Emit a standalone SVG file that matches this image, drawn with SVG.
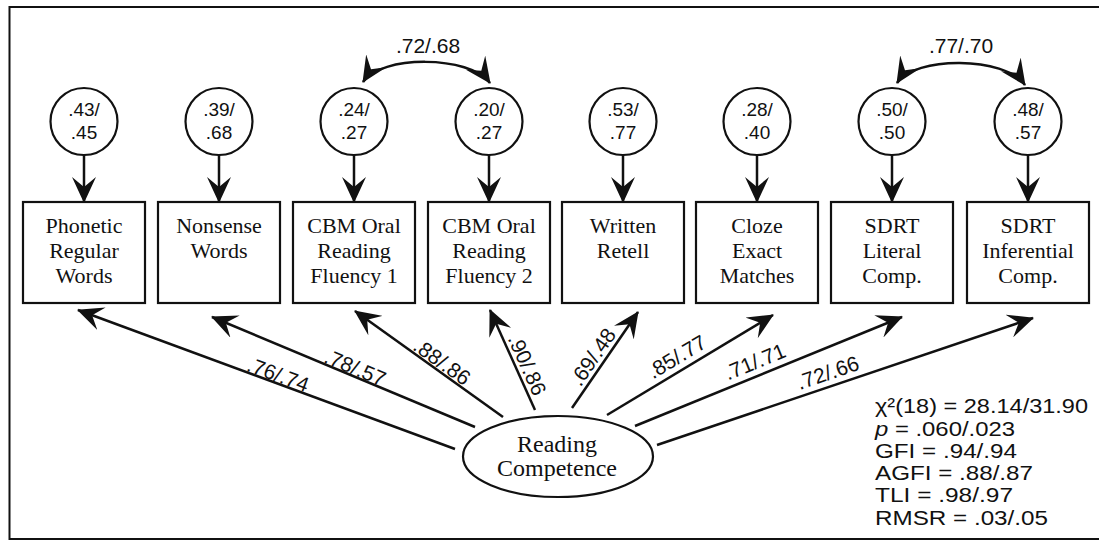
<svg xmlns="http://www.w3.org/2000/svg" width="1099" height="544" viewBox="0 0 1099 544">
<style>
.ln{fill:none;stroke:#111;stroke-width:2.5}
.bx{fill:#fff;stroke:#111;stroke-width:2.2}
.ci{fill:#fff;stroke:#111;stroke-width:2.2}
.st{font-family:"Liberation Serif","Times New Roman",serif;font-size:22px;fill:#111;text-anchor:middle}
.nm{font-family:"Liberation Sans",Arial,sans-serif;font-size:21px;fill:#111;text-anchor:middle}
.cn{font-family:"Liberation Sans",Arial,sans-serif;font-size:19px;fill:#111;text-anchor:middle}
.fit{font-family:"Liberation Sans",Arial,sans-serif;font-size:20px;fill:#111}
</style>
<defs>
<marker id="ah" viewBox="0 0 26 24" refX="25" refY="12" markerWidth="26" markerHeight="24" markerUnits="userSpaceOnUse" orient="auto-start-reverse">
<path d="M0,0 L26,12 L0,24 L10,12 Z" fill="#111"/>
</marker>
</defs>
<rect x="0" y="0" width="1099" height="544" fill="#fff"/>
<rect id="frame" x="9.5" y="7" width="1110" height="532" fill="none" stroke="#111" stroke-width="2"/>

<g id="connectors">
<g id="error-arrows">
<line class="ln" x1="84" y1="155" x2="84" y2="202" marker-end="url(#ah)"/>
<line class="ln" x1="219" y1="155" x2="219" y2="202" marker-end="url(#ah)"/>
<line class="ln" x1="354" y1="155" x2="354" y2="202" marker-end="url(#ah)"/>
<line class="ln" x1="489" y1="155" x2="489" y2="202" marker-end="url(#ah)"/>
<line class="ln" x1="623" y1="155" x2="623" y2="202" marker-end="url(#ah)"/>
<line class="ln" x1="757" y1="155" x2="757" y2="202" marker-end="url(#ah)"/>
<line class="ln" x1="892" y1="155" x2="892" y2="202" marker-end="url(#ah)"/>
<line class="ln" x1="1028" y1="155" x2="1028" y2="202" marker-end="url(#ah)"/>
</g>
<g id="correlations">
<path class="ln" d="M363,82 C380,55 470,55 490,83" marker-start="url(#ah)" marker-end="url(#ah)"/>
<text class="nm" x="428" y="53">.72/.68</text>
<path class="ln" d="M897,83 C914,56 1005,56 1025,85" marker-start="url(#ah)" marker-end="url(#ah)"/>
<text class="nm" x="961" y="53">.77/.70</text>
</g>
<g id="loadings">
<line class="ln" x1="455" y1="449" x2="78" y2="310" marker-end="url(#ah)"/>
<line class="ln" x1="475" y1="427" x2="212" y2="317" marker-end="url(#ah)"/>
<line class="ln" x1="503" y1="417" x2="355" y2="311" marker-end="url(#ah)"/>
<line class="ln" x1="535" y1="410" x2="490" y2="310" marker-end="url(#ah)"/>
<line class="ln" x1="572" y1="408" x2="638" y2="312" marker-end="url(#ah)"/>
<line class="ln" x1="607" y1="415" x2="773" y2="315" marker-end="url(#ah)"/>
<line class="ln" x1="635" y1="426" x2="902" y2="317" marker-end="url(#ah)"/>
<line class="ln" x1="657" y1="445" x2="1033" y2="318" marker-end="url(#ah)"/>
<text class="nm" transform="translate(278,375) rotate(20.2)" y="7">.76/.74</text>
<text class="nm" transform="translate(355,368) rotate(22.7)" y="7">.78/.57</text>
<text class="nm" transform="translate(442,362) rotate(35.6)" y="7">.88/.86</text>
<text class="nm" transform="translate(527,365) rotate(65.8)" y="7">.90/.86</text>
<text class="nm" transform="translate(593,357) rotate(-55.5)" y="7">.69/.48</text>
<text class="nm" transform="translate(677,357) rotate(-31)" y="7">.85/.77</text>
<text class="nm" transform="translate(755,362) rotate(-22.2)" y="7">.71/.71</text>
<text class="nm" transform="translate(828,373) rotate(-18.7)" y="7">.72/.66</text>
</g>
</g>

<g id="e1"><circle class="ci" cx="84" cy="121.5" r="33.5"/><text class="cn" x="84" y="116">.43/</text><text class="cn" x="84" y="138.5">.45</text></g>
<g id="e2"><circle class="ci" cx="219" cy="121.5" r="33.5"/><text class="cn" x="219" y="116">.39/</text><text class="cn" x="219" y="138.5">.68</text></g>
<g id="e3"><circle class="ci" cx="354" cy="121.5" r="33.5"/><text class="cn" x="354" y="116">.24/</text><text class="cn" x="354" y="138.5">.27</text></g>
<g id="e4"><circle class="ci" cx="489" cy="121.5" r="33.5"/><text class="cn" x="489" y="116">.20/</text><text class="cn" x="489" y="138.5">.27</text></g>
<g id="e5"><circle class="ci" cx="623" cy="121.5" r="33.5"/><text class="cn" x="623" y="116">.53/</text><text class="cn" x="623" y="138.5">.77</text></g>
<g id="e6"><circle class="ci" cx="757" cy="121.5" r="33.5"/><text class="cn" x="757" y="116">.28/</text><text class="cn" x="757" y="138.5">.40</text></g>
<g id="e7"><circle class="ci" cx="892" cy="121.5" r="33.5"/><text class="cn" x="892" y="116">.50/</text><text class="cn" x="892" y="138.5">.50</text></g>
<g id="e8"><circle class="ci" cx="1028" cy="121.5" r="33.5"/><text class="cn" x="1028" y="116">.48/</text><text class="cn" x="1028" y="138.5">.57</text></g>

<g id="phonetic"><rect class="bx" x="23" y="202" width="122" height="101"/><text class="st" x="84" y="233">Phonetic</text><text class="st" x="84" y="258">Regular</text><text class="st" x="84" y="283">Words</text></g>
<g id="nonsense"><rect class="bx" x="158" y="202" width="122" height="101"/><text class="st" x="219" y="233">Nonsense</text><text class="st" x="219" y="258">Words</text></g>
<g id="cbm1"><rect class="bx" x="293" y="202" width="122" height="101"/><text class="st" x="354" y="233">CBM Oral</text><text class="st" x="354" y="258">Reading</text><text class="st" x="354" y="283">Fluency 1</text></g>
<g id="cbm2"><rect class="bx" x="428" y="202" width="122" height="101"/><text class="st" x="489" y="233">CBM Oral</text><text class="st" x="489" y="258">Reading</text><text class="st" x="489" y="283">Fluency 2</text></g>
<g id="retell"><rect class="bx" x="562" y="202" width="122" height="101"/><text class="st" x="623" y="233">Written</text><text class="st" x="623" y="258">Retell</text></g>
<g id="cloze"><rect class="bx" x="696" y="202" width="122" height="101"/><text class="st" x="757" y="233">Cloze</text><text class="st" x="757" y="258">Exact</text><text class="st" x="757" y="283">Matches</text></g>
<g id="sdrt-lit"><rect class="bx" x="831" y="202" width="122" height="101"/><text class="st" x="892" y="233">SDRT</text><text class="st" x="892" y="258">Literal</text><text class="st" x="892" y="283">Comp.</text></g>
<g id="sdrt-inf"><rect class="bx" x="967" y="202" width="122" height="101"/><text class="st" x="1028" y="233">SDRT</text><text class="st" x="1028" y="258">Inferential</text><text class="st" x="1028" y="283">Comp.</text></g>

<g id="reading-competence"><ellipse class="ci" cx="558" cy="456.5" rx="95" ry="40.5"/><text class="st" style="font-size:24px" x="557" y="452">Reading</text><text class="st" style="font-size:24px" x="557" y="476">Competence</text></g>

<g id="fit-stats">
<text class="fit" x="875" y="413" textLength="213" lengthAdjust="spacingAndGlyphs">χ²(18) = 28.14/31.90</text>
<text class="fit" x="875" y="435.5" textLength="140" lengthAdjust="spacingAndGlyphs"><tspan font-style="italic">p</tspan> = .060/.023</text>
<text class="fit" x="875" y="457.5" textLength="142" lengthAdjust="spacingAndGlyphs">GFI = .94/.94</text>
<text class="fit" x="875" y="479.5" textLength="158" lengthAdjust="spacingAndGlyphs">AGFI = .88/.87</text>
<text class="fit" x="875" y="502" textLength="138" lengthAdjust="spacingAndGlyphs">TLI = .98/.97</text>
<text class="fit" x="875" y="524.5" textLength="173" lengthAdjust="spacingAndGlyphs">RMSR = .03/.05</text>
</g>
</svg>
